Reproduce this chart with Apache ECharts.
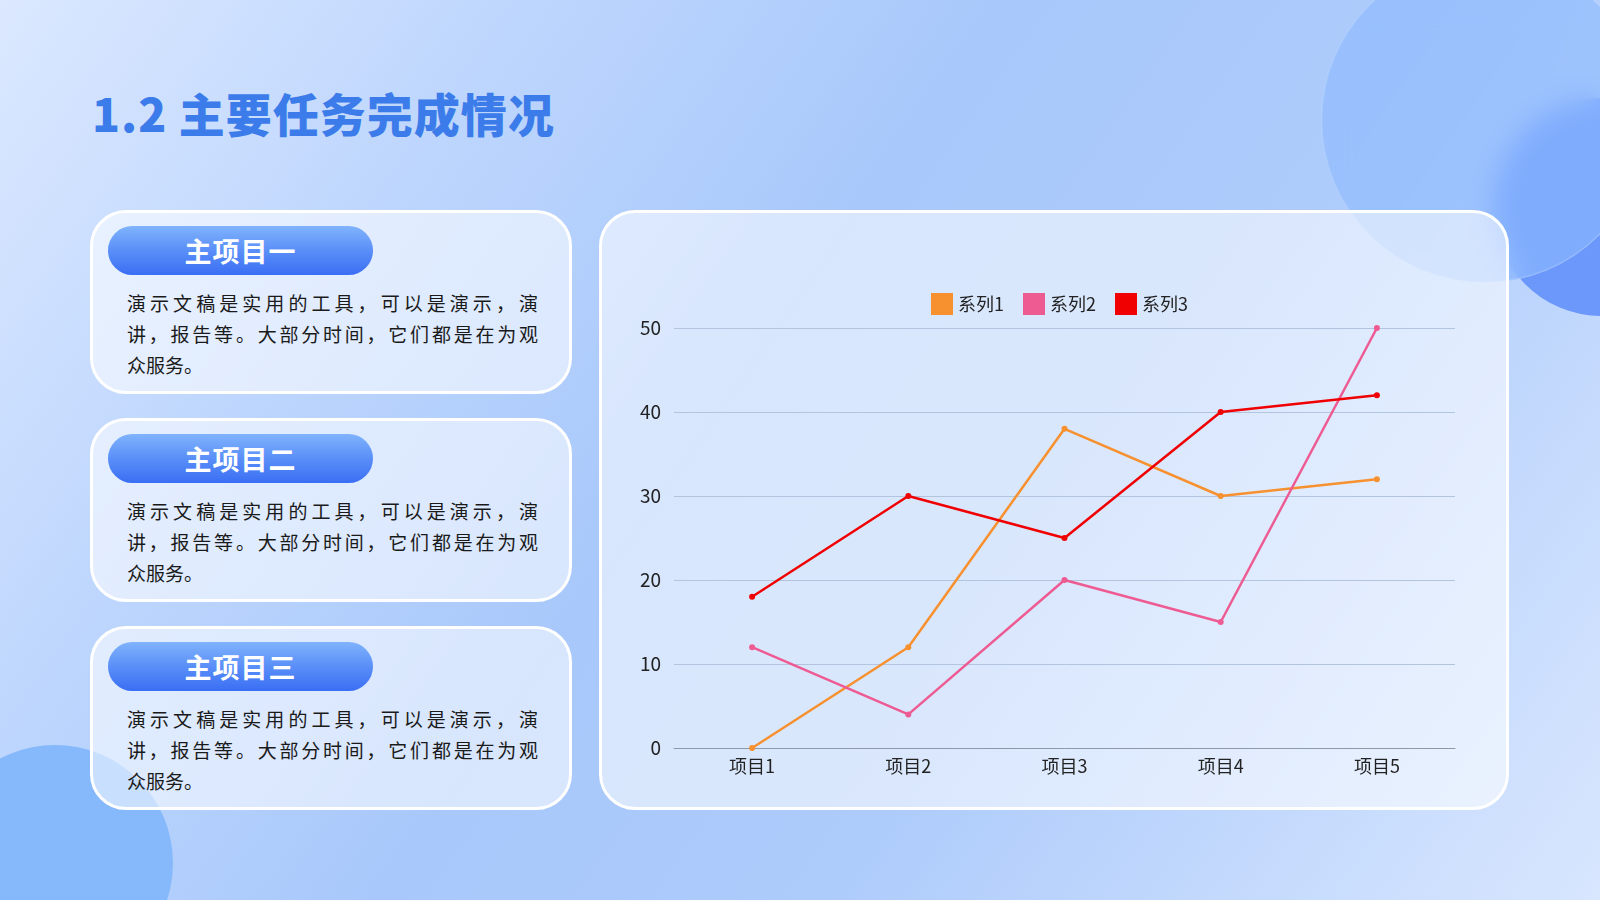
<!DOCTYPE html>
<html><head><meta charset="utf-8">
<script src="https://cdn.jsdelivr.net/npm/echarts@6/dist/echarts.min.js"></script>
<style>
html,body{margin:0;padding:0;width:1600px;height:900px;overflow:hidden;}
body{position:relative;font-family:"Noto Sans CJK SC","Noto Sans",sans-serif;
background:linear-gradient(125deg,#dbe8ff 0%,#bcd5fd 25%,#a8c8fb 45%,#adcbfb 65%,#c6dbfd 85%,#d8e6fe 100%);}
.circle{position:absolute;border-radius:50%;}
.title{position:absolute;left:92px;top:82px;font-size:46px;font-weight:900;color:#3b7cea;letter-spacing:1px;line-height:60px;white-space:nowrap;}
.card{position:absolute;box-sizing:border-box;border:3px solid #fff;border-radius:36px;background:rgba(255,255,255,0.55);}
.pill{position:absolute;left:108px;width:265px;height:49px;border-radius:25px;background:linear-gradient(180deg,#80b3fd 0%,#5a8ff8 50%,#3a6ef4 100%);color:#fff;font-size:27px;font-weight:bold;text-align:center;line-height:49px;letter-spacing:1px;}
.body{position:absolute;left:127px;width:411px;font-size:19px;color:#1a1a1a;line-height:31px;}
.j{text-align:justify;text-align-last:justify;white-space:nowrap;}
#chart{position:absolute;left:0;top:0;width:1600px;height:900px;}
</style></head>
<body>
<div class="circle" style="left:1493px;top:98px;width:218px;height:218px;background:#6c98fc;"></div>
<div class="circle" style="left:1321px;top:-43px;width:326px;height:326px;background:rgba(140,185,253,0.6);backdrop-filter:blur(14px);-webkit-backdrop-filter:blur(14px);box-shadow:inset 0 0 2px rgba(255,255,255,0.7);"></div>
<div class="circle" style="left:-63px;top:745px;width:236px;height:236px;background:#86b9fc;"></div>
<div class="title">1.2 主要任务完成情况</div>
<div id="cards"></div>
<div class="card" style="left:599px;top:210px;width:910px;height:600px;"></div>
<div id="chart"></div>
<script>
var cardTitles = ['主项目一', '主项目二', '主项目三'];
var cardLines = ['演示文稿是实用的工具，可以是演示，演', '讲，报告等。大部分时间，它们都是在为观', '众服务。'];
var categories = ['项目1', '项目2', '项目3', '项目4', '项目5'];
var seriesNames = ['系列1', '系列2', '系列3'];
var series1 = [0, 12, 38, 30, 32];
var series2 = [12, 4, 20, 15, 50];
var series3 = [18, 30, 25, 40, 42];
var yTicks = [0, 10, 20, 30, 40, 50];

var cardTops = [210, 418, 626];
var html = '';
cardTitles.forEach(function (t, i) {
  var top = cardTops[i];
  html += '<div class="card" style="left:90px;top:' + top + 'px;width:482px;height:184px;"></div>';
  html += '<div class="pill" style="top:' + (top + 16) + 'px;">' + t + '</div>';
  html += '<div class="body" style="top:' + (top + 77) + 'px;">' +
    '<div class="j">' + cardLines[0] + '</div>' +
    '<div class="j">' + cardLines[1] + '</div>' +
    '<div>' + cardLines[2] + '</div></div>';
});
document.getElementById('cards').innerHTML = html;

var chart = echarts.init(document.getElementById('chart'), null, {renderer: 'canvas'});
var colors = ['#f79130', '#ee5b93', '#f00000'];
var font = '"Noto Sans CJK SC","Noto Sans",sans-serif';
var data = [series1, series2, series3];
chart.setOption({
  backgroundColor: 'transparent',
  animation: false,
  color: colors,
  legend: {
    left: 926, top: 288, itemWidth: 22, itemHeight: 22, itemGap: 19,
    icon: 'rect',
    data: seriesNames,
    textStyle: {fontSize: 18, color: '#222', fontFamily: font}
  },
  grid: {left: 674, top: 328, width: 781, height: 420, containLabel: false},
  xAxis: {
    type: 'category', data: categories, boundaryGap: true,
    axisLine: {lineStyle: {color: '#8d98a8', width: 1}},
    axisTick: {show: false},
    axisLabel: {fontSize: 18, color: '#222', margin: 9, fontFamily: font}
  },
  yAxis: {
    type: 'value', min: yTicks[0], max: yTicks[yTicks.length - 1], interval: 10,
    axisLine: {show: false}, axisTick: {show: false},
    axisLabel: {fontSize: 19, color: '#222', margin: 13, fontFamily: font},
    splitLine: {lineStyle: {color: '#b3c5de', width: 1}}
  },
  series: seriesNames.map(function (n, i) {
    return {
      name: n, type: 'line', data: data[i],
      symbol: 'circle', symbolSize: 6,
      lineStyle: {width: 2.5, color: colors[i]},
      itemStyle: {color: colors[i]}
    };
  })
});
</script>
</body></html>
